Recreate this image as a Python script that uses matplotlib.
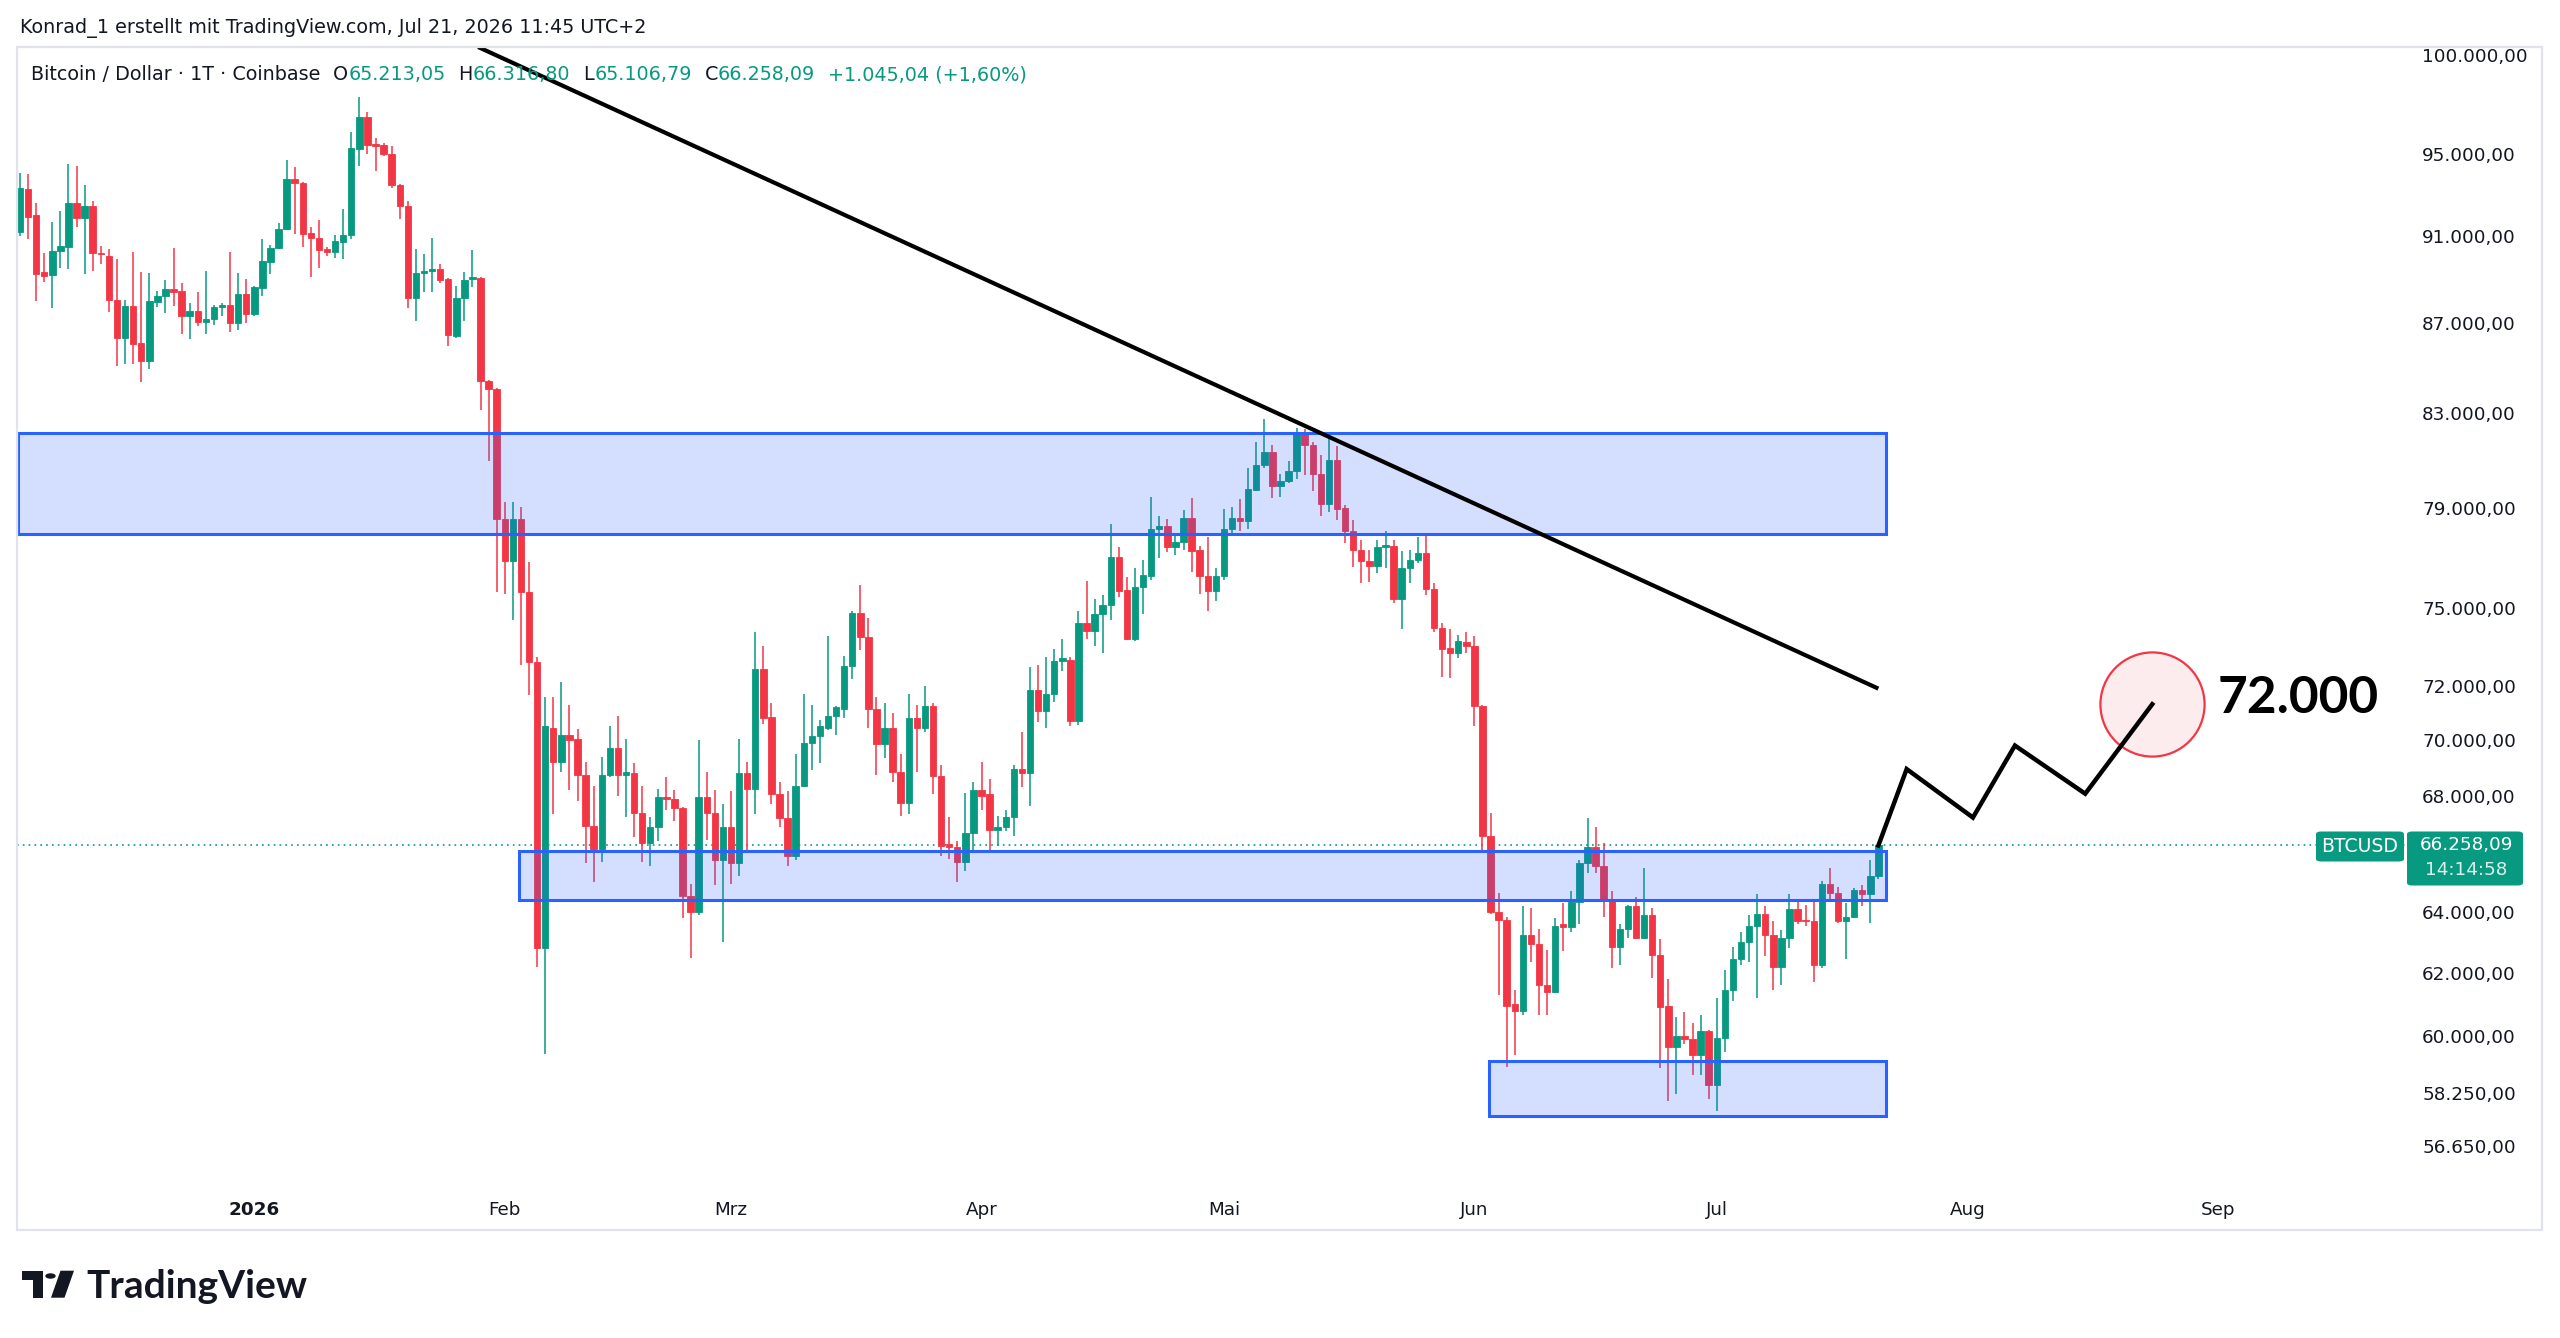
import numpy as np
import pandas as pd
import matplotlib
matplotlib.use('Agg')
import matplotlib.pyplot as plt
import matplotlib.dates as mdates
from matplotlib.patches import Rectangle, FancyBboxPatch, Polygon, Circle
from matplotlib.ticker import FixedLocator, FuncFormatter, NullLocator

# Bitcoin / Dollar, daily candles (Coinbase)
start_date = '2025-12-03'

opens = [
    91200, 93300, 92000, 89350, 89200, 90300, 90500, 92600, 91900, 92450,
    90200, 90100, 88050, 86300, 87750, 86100, 85300, 87950, 88200, 88550,
    88450, 87300, 87550, 87050, 87150, 87700, 87800, 87000, 88300, 87400,
    88600, 89800, 90450, 91350, 93750, 93550, 91150, 90950, 90400, 90250,
    90750, 91050, 95250, 96850, 95500, 95450, 95000, 93450, 92450, 88150,
    89300, 89400, 89450, 89000, 86400, 88150, 89000, 89050, 84400, 84050,
    78550, 76850, 78550, 75600, 72900, 62800, 70450, 69200, 70200, 70050,
    68750, 66950, 66150, 68750, 69700, 68750, 68800, 67400, 66350, 66900,
    67950, 67900, 67550, 64550, 64000, 67950, 67400, 65750, 66900, 65650,
    68800, 68250, 72650, 70850, 68050, 67200, 65900, 68350, 69900, 70150,
    70450, 70900, 71150, 72750, 74800, 73850, 71150, 69850, 70450, 68850,
    67750, 70800, 70450, 71250, 68700, 66300, 66200, 65700, 66700, 68200,
    68050, 66800, 66900, 67250, 68950, 68800, 71850, 71050, 71700, 72950,
    73000, 70700, 74400, 74100, 74750, 75100, 77000, 75700, 73800, 75800,
    76250, 78150, 78250, 77400, 77600, 78600, 77300, 76250, 75650, 76250,
    78150, 78600, 78450, 79750, 80800, 81350, 79900, 80100, 80550, 82150,
    81650, 80400, 79150, 81000, 79000, 78050, 77300, 76850, 76650, 77400,
    77450, 75350, 76550, 76900, 77150, 75750, 74200, 73450, 73250, 73650,
    73500, 71250, 66600, 64000, 63750, 61000, 60800, 63250, 62950, 61600,
    61400, 63600, 63500, 64350, 65650, 66200, 65550, 64400, 62850, 63450,
    64200, 63150, 63900, 62600, 60950, 59650, 60000, 59900, 59400, 60150,
    58500, 59950, 61450, 62450, 63000, 63550, 63950, 63250, 62200, 63150,
    64100, 63750, 63700, 62250, 64950, 64650, 63700, 63850, 64750, 64600,
    65213.05,
]
highs = [
    94050, 94000, 92600, 90200, 91700, 92200, 94500, 94400, 93450, 92700,
    90550, 90400, 89950, 88050, 90250, 89350, 89300, 88450, 88950, 90450,
    88800, 87900, 88400, 89400, 87800, 87900, 90250, 89300, 89000, 88700,
    90900, 90600, 91650, 94700, 94350, 93600, 91450, 91800, 90500, 91050,
    92300, 96100, 97850, 97100, 95800, 95550, 95400, 93500, 92700, 90400,
    90150, 90950, 89700, 89050, 88700, 89350, 90350, 89100, 84450, 84100,
    79250, 79250, 79050, 76800, 73100, 71600, 71600, 72150, 71300, 70400,
    69200, 68350, 69400, 70500, 70900, 70050, 69150, 68350, 67250, 68250,
    68650, 68200, 67600, 64950, 70000, 68850, 68200, 67700, 68150, 70050,
    69200, 74050, 73500, 71350, 68500, 68150, 69500, 71700, 71300, 70750,
    73900, 71250, 73150, 74850, 75900, 74600, 71600, 71350, 71000, 69500,
    71700, 71300, 72000, 71350, 69100, 67250, 66400, 68100, 68500, 69200,
    68600, 67300, 67500, 69100, 70300, 72700, 72800, 73100, 73400, 73800,
    73100, 74850, 76050, 75350, 75500, 78350, 77400, 76200, 76550, 76900,
    79450, 78650, 78550, 77850, 78900, 79400, 77450, 77800, 76550, 78950,
    79050, 79350, 80650, 81750, 82750, 81650, 80400, 80950, 82350, 82300,
    81750, 81200, 81950, 81600, 79100, 78500, 77700, 77300, 77700, 78050,
    77700, 77250, 77300, 77800, 77950, 75950, 74400, 74150, 73950, 74050,
    73900, 71300, 67400, 64650, 63850, 61450, 64200, 64150, 63450, 62750,
    63800, 64300, 64700, 65750, 67200, 66900, 66350, 64700, 63600, 64250,
    64500, 65500, 64150, 63100, 61800, 60600, 60750, 60400, 60650, 60200,
    61200, 62100, 62850, 63350, 63900, 64600, 64200, 63700, 63400, 64600,
    64400, 64250, 64350, 65050, 65500, 64850, 64300, 64800, 64900, 65750,
    66316.80,
]
lows = [
    91000, 90900, 88000, 88850, 87650, 89500, 89450, 91450, 89250, 89400,
    89700, 87500, 85050, 85150, 85150, 84350, 84950, 87700, 87450, 87750,
    86500, 86250, 86850, 86500, 86900, 87300, 86600, 86650, 87000, 87300,
    88200, 89250, 90400, 91300, 91100, 90500, 89100, 89500, 90100, 90000,
    89950, 90900, 94400, 95000, 94150, 94900, 93350, 91850, 87650, 87100,
    88400, 88400, 88800, 85950, 86300, 87100, 88650, 83150, 80950, 75600,
    75550, 74500, 72800, 71650, 62200, 59450, 67350, 68850, 68200, 67800,
    65650, 65000, 65700, 68650, 68000, 67250, 66550, 65700, 65550, 66400,
    67500, 67100, 63800, 62500, 63900, 66450, 64900, 63000, 64950, 65200,
    66100, 67350, 70600, 67700, 66900, 65550, 65750, 68300, 68900, 69150,
    70350, 70200, 70800, 72250, 73350, 70450, 68750, 69350, 68500, 67300,
    67350, 68850, 70300, 68050, 65900, 65800, 65000, 65400, 66100, 67500,
    66100, 66250, 66750, 66600, 68300, 67650, 70650, 70450, 71400, 72550,
    70500, 70550, 73800, 73500, 73250, 74500, 75400, 73750, 73700, 74750,
    76100, 76950, 77200, 77100, 77300, 76400, 75550, 74850, 75250, 76100,
    77950, 78050, 78150, 79700, 80650, 79400, 79450, 80050, 80200, 80350,
    79700, 78650, 78850, 78500, 77550, 76600, 75950, 76000, 76350, 76550,
    75200, 74150, 75950, 76750, 75500, 74050, 72350, 72300, 73050, 73250,
    70500, 66100, 63950, 61300, 59050, 59400, 60650, 62350, 60650, 60650,
    61350, 62700, 63350, 63600, 65300, 65300, 63850, 62150, 62250, 63150,
    63100, 63100, 61850, 59000, 58000, 58200, 59750, 58800, 58800, 58050,
    57700, 59500, 61100, 62250, 62350, 61200, 62550, 61450, 61600, 62800,
    63600, 63550, 61700, 62150, 64400, 63650, 62450, 63800, 64200, 63650,
    65106.79,
]
closes = [
    93350, 91950, 89250, 89150, 90300, 90550, 92600, 91900, 92450, 90200,
    90150, 88050, 86300, 87750, 86050, 85300, 88000, 88200, 88550, 88400,
    87300, 87550, 87050, 87150, 87700, 87800, 87000, 88300, 87400, 88650,
    89850, 90450, 91350, 93750, 93550, 91100, 90950, 90350, 90250, 90800,
    91050, 95300, 96850, 95450, 95400, 95000, 93450, 92450, 88150, 89300,
    89400, 89450, 88950, 86450, 88150, 88950, 89100, 84400, 84050, 78550,
    76850, 78550, 75600, 72900, 62800, 70500, 69200, 70200, 70000, 68750,
    66950, 66150, 68750, 69700, 68750, 68850, 67400, 66350, 66900, 67950,
    67900, 67550, 64550, 64000, 67950, 67400, 65750, 66900, 65650, 68800,
    68250, 72650, 70800, 68050, 67200, 65900, 68350, 69900, 70150, 70500,
    70900, 71200, 72750, 74800, 73850, 71150, 69850, 70450, 68850, 67750,
    70800, 70450, 71250, 68700, 66250, 66200, 65700, 66700, 68200, 68000,
    66800, 66900, 67250, 68950, 68800, 71850, 71050, 71700, 72950, 73050,
    70700, 74400, 74100, 74750, 75100, 77000, 75650, 73800, 75800, 76300,
    78150, 78250, 77400, 77600, 78600, 77250, 76250, 75650, 76250, 78150,
    78600, 78450, 79800, 80800, 81350, 79900, 80100, 80550, 82150, 81650,
    80400, 79150, 81000, 78950, 78050, 77300, 76850, 76650, 77400, 77500,
    75350, 76550, 76900, 77150, 75750, 74200, 73400, 73250, 73700, 73500,
    71250, 66600, 64000, 63750, 60950, 60800, 63250, 62950, 61600, 61400,
    63550, 63500, 64350, 65650, 66200, 65550, 64400, 62850, 63450, 64200,
    63150, 63900, 62600, 60900, 59650, 60000, 59900, 59400, 60150, 58500,
    59950, 61450, 62450, 63000, 63550, 63950, 63250, 62200, 63150, 64100,
    63700, 63700, 62250, 64950, 64650, 63700, 63850, 64750, 64600, 65213.05,
    66258.09,
]

# drawings (day offsets from the first candle)
zone_start = [-0.2, 61.7, 181.8]
zone_end = [230.9, 230.9, 230.9]
zone_low = [77920, 64410, 57550]
zone_high = [82160, 66075, 59230]

trend_days = [56.7, 230.0]
trend_prices = [100440, 71900]

path_days = [230.0, 233.5, 241.7, 246.9, 255.6, 263.9]
path_prices = [66258.09, 68950, 67230, 69800, 68070, 71320]

target_label = '72.000'
target_day = 272.0
target_price = 71000

y_ticks = [100000, 95000, 91000, 87000, 83000, 79000, 75000, 72000, 70000,
           68000, 64000, 62000, 60000, 58250, 56650]
month_starts = ['2026-01-01', '2026-02-01', '2026-03-01', '2026-04-01', '2026-05-01',
                '2026-06-01', '2026-07-01', '2026-08-01', '2026-09-01']
month_labels = ['2026', 'Feb', 'Mrz', 'Apr', 'Mai', 'Jun', 'Jul', 'Aug', 'Sep']

UP = '#089981'
DOWN = '#f23645'
DARK = '#131722'
BLUE = '#2962ff'

W, H, DPI = 2560, 1338, 200


def fx(px):
    return px / W


def fy(py):
    return 1 - py / H


def de(v, d=2):
    s = f'{v:,.{d}f}'
    return s.replace(',', 'X').replace('.', ',').replace('X', '.')


plt.rcParams['font.family'] = ['DejaVu Sans']

fig = plt.figure(figsize=(W / DPI, H / DPI), dpi=DPI)
fig.patch.set_facecolor('white')
ax = fig.add_axes([fx(17), fy(1188), fx(2406) - fx(17), fy(47) - fy(1188)])
ax.set_facecolor('none')

dates = pd.date_range(start_date, periods=len(closes), freq='D')
x = mdates.date2num(dates.to_pydatetime())
x0 = x[0]
o = np.array(opens)
h = np.array(highs)
l = np.array(lows)
c = np.array(closes)
cols = np.where(c >= o, UP, DOWN)

ax.set_yscale('log')
ax.set_ylim(55430, 100440)
ax.set_xlim(x0 - 0.37, x0 + 295.3)

# candles
ax.vlines(x, l, h, colors=cols, lw=0.55, zorder=2)
ax.bar(x, np.abs(c - o), bottom=np.minimum(o, c), width=0.8, color=cols,
       edgecolor=cols, lw=0.3, zorder=3)

# zones
for s, e, lo, hi in zip(zone_start, zone_end, zone_low, zone_high):
    ax.add_patch(Rectangle((x0 + s, lo), e - s, hi - lo,
                           facecolor=(41 / 255, 98 / 255, 1.0, 0.2),
                           edgecolor=BLUE, lw=1.1, zorder=4))

# trend line and projected path
ax.plot([x0 + d for d in trend_days], trend_prices, color='black', lw=1.5,
        solid_capstyle='butt', zorder=5)
ax.plot(x0 + path_days[-1], path_prices[-1], marker='o', ms=37.5, mfc='#fdeced',
        mec=DOWN, mew=0.8, zorder=5)
ax.plot([x0 + d for d in path_days], path_prices, color='black', lw=1.6,
        solid_joinstyle='miter', zorder=6)
ax.text(x0 + target_day, target_price, target_label, fontsize=18.5, fontweight='bold',
        family=['Lato', 'DejaVu Sans'], color='black', ha='left', va='baseline', zorder=7)

# last price line
ax.axhline(closes[-1], color=UP, lw=0.6, ls=(0, (1, 2.5)), zorder=1)

# axes styling
for sp in ax.spines.values():
    sp.set_visible(False)
ax.yaxis.tick_right()
ax.yaxis.set_major_locator(FixedLocator(y_ticks))
ax.yaxis.set_minor_locator(NullLocator())
ax.yaxis.set_major_formatter(FuncFormatter(lambda v, p: de(v)))
ax.tick_params(axis='y', length=0, pad=5.8, labelsize=6.6, labelcolor=DARK)
ax.set_xticks(mdates.date2num(pd.to_datetime(month_starts).to_pydatetime()))
ax.set_xticklabels(month_labels)
ax.tick_params(axis='x', length=0, pad=4.6, labelsize=6.6, labelcolor=DARK)
ax.get_xticklabels()[0].set_fontweight('bold')

# panel border
fig.add_artist(Rectangle((fx(17), fy(1230)), fx(2542) - fx(17), fy(47) - fy(1230),
                         transform=fig.transFigure, fill=False, ec='#e0e3eb', lw=0.8))

# last price labels on the scale
fig.canvas.draw()
py = H - ax.transData.transform((x0, closes[-1]))[1]
top = py - 14
fig.add_artist(FancyBboxPatch((fx(2316), fy(top + 30)), fx(2404) - fx(2316), fy(top) - fy(top + 30),
                              boxstyle='round,pad=0,rounding_size=0.002',
                              transform=fig.transFigure, fc=UP, ec='none'))
fig.add_artist(FancyBboxPatch((fx(2407), fy(top + 54)), fx(2523) - fx(2407), fy(top) - fy(top + 54),
                              boxstyle='round,pad=0,rounding_size=0.002',
                              transform=fig.transFigure, fc=UP, ec='none'))
fig.text(fx(2360), fy(top + 15), 'BTCUSD', color='white', fontsize=6.8,
         ha='center', va='center')
fig.text(fx(2466), fy(top + 14), de(closes[-1]), color='white', fontsize=6.6,
         ha='center', va='center')
fig.text(fx(2466), fy(top + 39), '14:14:58', color='white', alpha=0.85, fontsize=6.6,
         ha='center', va='center')

# header
fig.text(fx(20), fy(28), 'Konrad_1 erstellt mit TradingView.com, Jul 21, 2026 11:45 UTC+2',
         color=DARK, fontsize=6.9, ha='left', va='center')

renderer = fig.canvas.get_renderer()


def put(xp, s, color):
    t = fig.text(fx(xp), fy(75), s, color=color, fontsize=6.9, ha='left', va='center')
    return t.get_window_extent(renderer=renderer).x1


gap = 13
xe = put(31, 'Bitcoin / Dollar · 1T · Coinbase', DARK)
chg = closes[-1] - closes[-2]
for letter, val in [('O', opens[-1]), ('H', highs[-1]), ('L', lows[-1]), ('C', closes[-1])]:
    xe = put(xe + gap, letter, DARK)
    xe = put(xe, de(val), UP)
put(xe + gap, f'+{de(chg)} (+{de(chg / closes[-2] * 100)}%)', UP)

# TradingView logo
logo = DARK
fig.add_artist(Polygon([(fx(21.5), fy(1270.7)), (fx(43), fy(1270.7)), (fx(43), fy(1297.7)),
                        (fx(33), fy(1297.7)), (fx(33), fy(1279.5)), (fx(21.5), fy(1279.5))],
                       closed=True, transform=fig.transFigure, fc=logo, ec='none'))
fig.add_artist(Circle((fx(50.5), fy(1276)), 5.2 / W, transform=fig.transFigure, fc=logo, ec='none'))
fig.add_artist(Polygon([(fx(60.5), fy(1270.7)), (fx(74), fy(1270.7)), (fx(64.5), fy(1297.7)),
                        (fx(51), fy(1297.7))],
                       closed=True, transform=fig.transFigure, fc=logo, ec='none'))
fig.text(fx(86), fy(1298), 'TradingView', color=logo, fontsize=14, fontweight='bold',
         family=['Lato', 'DejaVu Sans'], ha='left', va='baseline')

fig.savefig('out.png', dpi=DPI, facecolor='white')
